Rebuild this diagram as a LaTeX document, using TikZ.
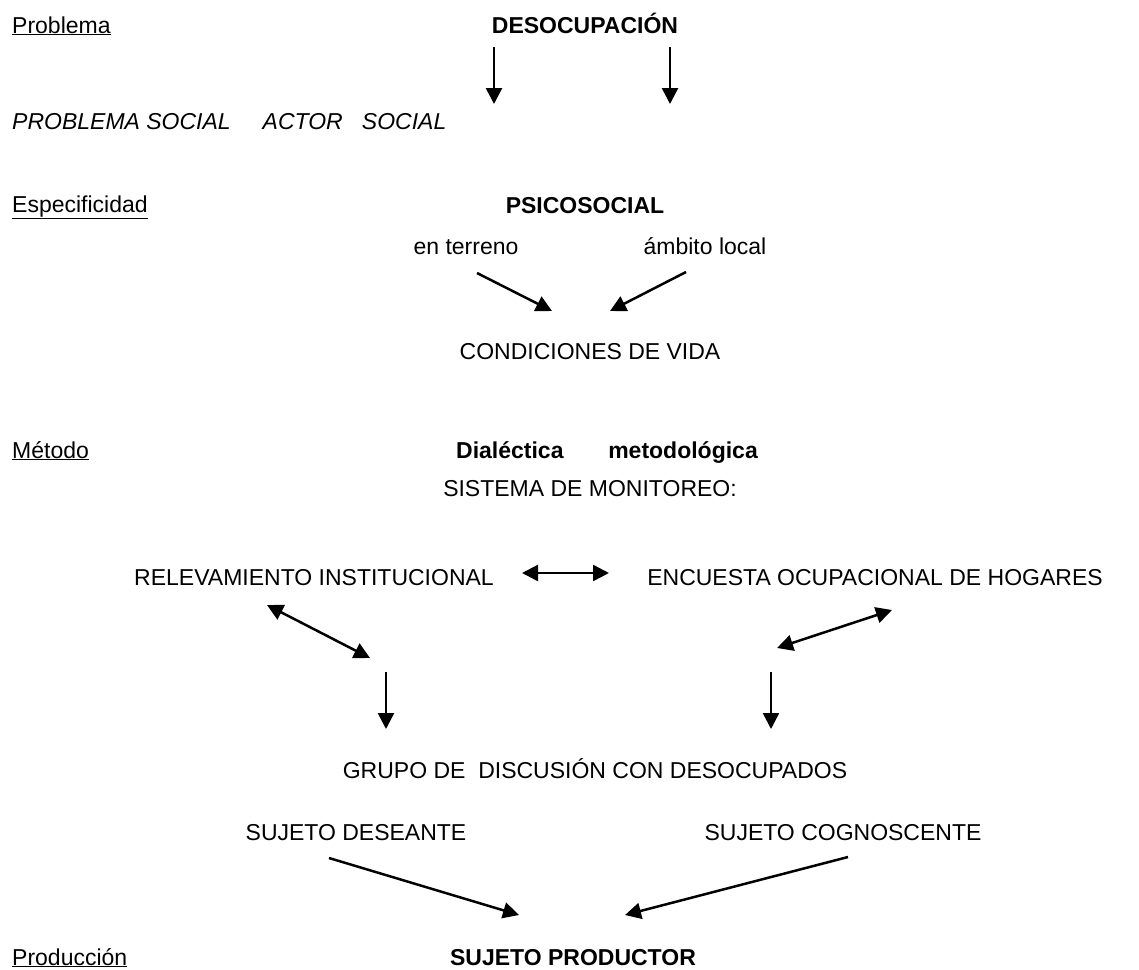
\documentclass[tikz,border=0pt]{standalone}
\usepackage{fontspec}
\setmainfont{Liberation Sans}
\usepackage{tikz}
\usetikzlibrary{arrows.meta}

\begin{document}
\begin{tikzpicture}[x=1pt, y=-1pt,
  every node/.style = {inner sep = 0pt, font = \fontsize{23}{27}\selectfont},
  rubro/.style = {anchor = base west},
  texto/.style = {anchor = base},
  titulo/.style = {anchor = base, font = \fontsize{23}{27}\selectfont\bfseries},
  flecha/.style = {line width = 2.5pt, -{Triangle[length=16pt, width=16pt]}},
  doble/.style = {line width = 2.5pt, {Triangle[length=16pt, width=16pt]}-{Triangle[length=16pt, width=16pt]}}
]
\useasboundingbox (0,0) rectangle (1139,969);

% columna izquierda
\node[rubro] (problema) at (12,33) {\underline{Problema}};
\node[rubro] (actores) at (12,129) {\itshape PROBLEMA SOCIAL~~~~~ACTOR~~~SOCIAL};
\node[rubro] (especif) at (12,212) {\underline{Especificidad}};
\node[rubro] (metodo) at (12,458) {\underline{Método}};
\node[rubro] (produc) at (12,965) {\underline{Producción}};

% centro
\node[titulo] (desocup) at (585,33) {DESOCUPACIÓN};
\node[titulo] (psico) at (585,213) {PSICOSOCIAL};
\node[texto] (terreno) at (466,254) {en terreno};
\node[texto] (local) at (705,254) {ámbito local};
\node[texto] (condic) at (590,359) {CONDICIONES DE VIDA};
\node[titulo] (dialect) at (607,458) {Dialéctica~~~~~~~metodológica};
\node[texto] (sistema) at (590,496) {SISTEMA DE MONITOREO:};
\node[texto] (relev) at (314,585) {RELEVAMIENTO INSTITUCIONAL};
\node[texto] (encuesta) at (875,585) {ENCUESTA OCUPACIONAL DE HOGARES};
\node[texto] (grupo) at (595,778) {GRUPO DE~~DISCUSIÓN CON DESOCUPADOS};
\node[texto] (deseante) at (356,840) {SUJETO DESEANTE};
\node[texto] (cognosc) at (843,840) {SUJETO COGNOSCENTE};
\node[titulo] (productor) at (573,965) {SUJETO PRODUCTOR};

% extremos de las flechas
\coordinate (d1) at (494,47);  \coordinate (d2) at (494,104);
\coordinate (d3) at (670,47);  \coordinate (d4) at (670,104);
\coordinate (t1) at (477,273); \coordinate (t2) at (552,311);
\coordinate (l1) at (686,272); \coordinate (l2) at (610,311);
\coordinate (h1) at (522,573); \coordinate (h2) at (609,573);
\coordinate (r1) at (267,605); \coordinate (r2) at (370,658);
\coordinate (e1) at (892,610); \coordinate (e2) at (777,648);
\coordinate (v1) at (386,672); \coordinate (v2) at (386,729);
\coordinate (v3) at (771,672); \coordinate (v4) at (771,729);
\coordinate (s1) at (329,858); \coordinate (s2) at (519,915);
\coordinate (c1) at (848,857); \coordinate (c2) at (625,915);

\draw[flecha] (d1) -- (d2);
\draw[flecha] (d3) -- (d4);
\draw[flecha] (t1) -- (t2);
\draw[flecha] (l1) -- (l2);
\draw[doble] (h1) -- (h2);
\draw[doble] (r1) -- (r2);
\draw[doble] (e1) -- (e2);
\draw[flecha] (v1) -- (v2);
\draw[flecha] (v3) -- (v4);
\draw[flecha] (s1) -- (s2);
\draw[flecha] (c1) -- (c2);
\end{tikzpicture}
\end{document}
